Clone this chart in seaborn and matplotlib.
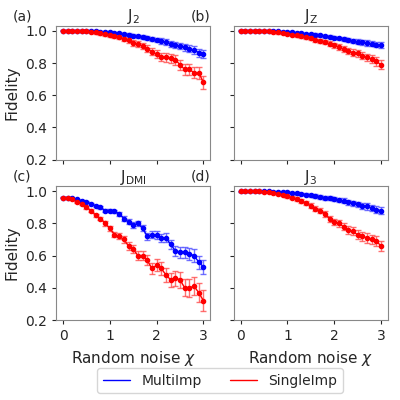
import matplotlib
matplotlib.use("Agg")
import matplotlib.pyplot as plt
import seaborn as sns
import numpy as np

sns.set_style("white")
plt.rcParams['font.family'] = ['DejaVu Sans']

x = [round(0.1*i, 1) for i in range(31)]
titles = ["J$_2$", "J$_\\mathrm{Z}$", "J$_{\\rm DMI}$", "J$_3$"]
labels = ["(a)", "(b)", "(c)", "(d)"]
multi = [
 [1,1,1,1,1,1,.998,.997,.995,.993,.99,.987,.984,.98,.975,.97,.965,.96,.955,.95,.943,.937,.93,.92,.913,.905,.897,.89,.88,.865,.855],
 [1,1,1,1,1,1,.999,.998,.997,.995,.993,.99,.988,.985,.982,.978,.975,.971,.967,.963,.958,.953,.948,.943,.938,.933,.928,.924,.92,.915,.91],
 [.96,.96,.955,.95,.94,.935,.92,.91,.9,.88,.88,.875,.86,.83,.81,.79,.8,.77,.72,.73,.73,.71,.71,.67,.63,.62,.62,.61,.6,.56,.53],
 [1,1,1,1,1,1,.999,.998,.996,.994,.992,.989,.986,.982,.978,.974,.97,.965,.96,.955,.95,.945,.94,.932,.925,.918,.91,.905,.895,.885,.88],
]
single = [
 [1,1,1,1,1,.998,.995,.99,.985,.98,.975,.965,.96,.95,.94,.925,.92,.905,.89,.87,.855,.84,.835,.83,.82,.79,.76,.76,.74,.74,.68],
 [1,1,1,1,.999,.998,.996,.993,.99,.986,.982,.977,.972,.966,.96,.953,.946,.938,.93,.92,.91,.9,.885,.875,.865,.86,.845,.835,.825,.81,.79],
 [.96,.96,.95,.93,.92,.9,.88,.85,.83,.8,.77,.73,.72,.7,.66,.64,.6,.6,.57,.52,.54,.52,.48,.45,.46,.45,.4,.4,.41,.37,.32],
 [1,1,1,1,.999,.997,.994,.99,.985,.978,.97,.96,.95,.94,.925,.91,.89,.88,.86,.83,.81,.8,.78,.76,.75,.73,.72,.71,.7,.69,.66],
]
err_scale = [0.03, 0.02, 0.05, 0.025]

fig, axes = plt.subplots(2, 2, figsize=(4, 4), dpi=100, sharex=True, sharey=True)
fig.subplots_adjust(left=0.14, right=0.97, top=0.935, bottom=0.2, wspace=0.15, hspace=0.2)
for k, ax in enumerate(axes.flat):
    xs = np.array(x)
    e = err_scale[k]*(xs/3)**1.5 + 0.003
    ax.errorbar(x, multi[k], yerr=e*0.8, color='blue', marker='o', ms=3, lw=1, capsize=2, elinewidth=1, ecolor=(0.3,0.3,1,0.8), label='MultiImp')
    ax.errorbar(x, single[k], yerr=e*1.2, color='red', marker='o', ms=3, lw=1, capsize=2, elinewidth=1, ecolor=(1,0.3,0.3,0.8), label='SingleImp')
    ax.set_ylim(0.2, 1.03)
    ax.set_xlim(-0.15, 3.15)
    ax.set_xticks([0, 1, 2, 3])
    ax.set_yticks([0.2, 0.4, 0.6, 0.8, 1.0])
    ax.tick_params(labelsize=10, length=3, left=True, bottom=True)
    ax.set_title(titles[k], fontsize=11, pad=3)
    ax.text(-0.28, 1.02, labels[k], transform=ax.transAxes, fontsize=10, va='bottom')
    for s in ax.spines.values():
        s.set_color('#888888')
for ax in axes[:, 0]:
    ax.set_ylabel("Fidelity", fontsize=11)
for ax in axes[1, :]:
    ax.set_xlabel("Random noise $\\chi$", fontsize=11)
h, l = axes[0, 0].get_legend_handles_labels()
hl = [plt.Line2D([], [], color='blue', lw=1), plt.Line2D([], [], color='red', lw=1)]
fig.legend(hl, l, loc='lower center', ncol=2, fontsize=10, bbox_to_anchor=(0.55, 0.0), frameon=True)
fig.savefig("out.png")
